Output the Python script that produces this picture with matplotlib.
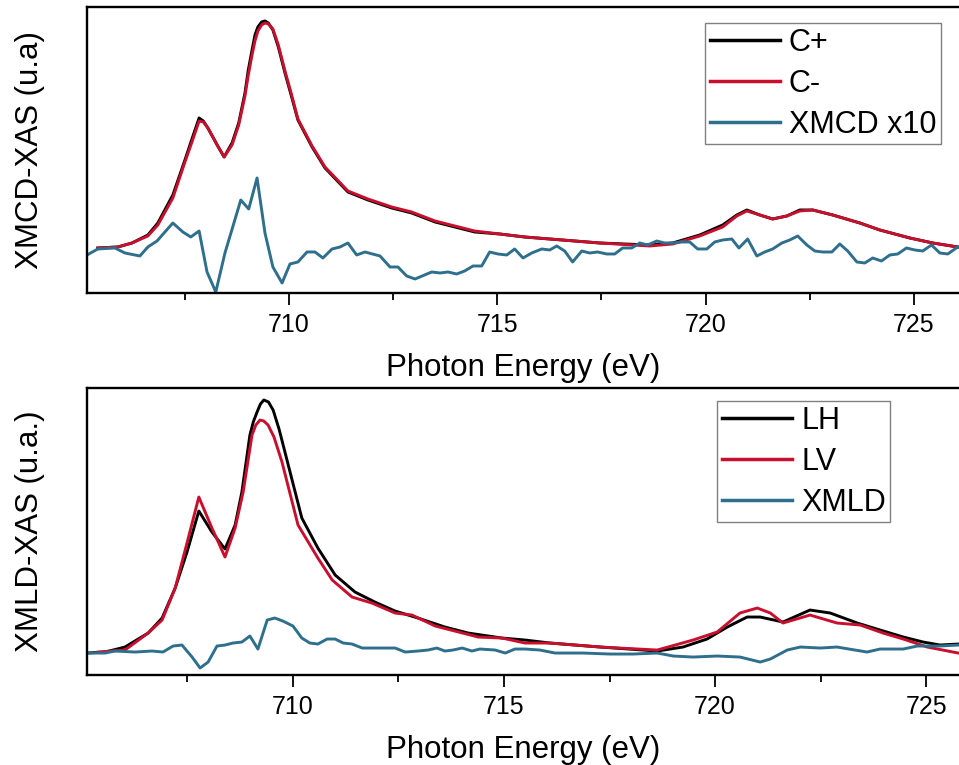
import numpy as np
import matplotlib
matplotlib.use('Agg')
import matplotlib.pyplot as plt

plt.rcParams['font.family'] = ['Liberation Sans', 'DejaVu Sans']

# ---- top panel: circular polarisation (XMCD) ----
e_cp = [705.42, 705.90, 706.24, 706.62, 706.86, 707.22, 707.51, 707.67, 707.85, 707.95,
        708.06, 708.31, 708.45, 708.64, 708.80, 708.95, 709.03, 709.12, 709.19, 709.26,
        709.35, 709.43, 709.51, 709.62, 709.75, 709.91, 710.07, 710.22, 710.56, 710.87,
        711.42, 711.90, 712.47, 712.95, 713.51, 714.46, 715.06, 715.66, 716.26, 717.46,
        718.66, 719.21, 719.86, 720.41, 720.75, 720.99, 721.30, 721.61, 721.95, 722.26,
        722.57, 723.05, 723.70, 724.18, 724.90, 725.45, 726.05]
c_plus = [0.45, 0.46, 0.50, 0.58, 0.70, 0.98, 1.33, 1.53, 1.75, 1.72,
          1.65, 1.46, 1.36, 1.50, 1.70, 2.00, 2.23, 2.43, 2.58, 2.66,
          2.71, 2.72, 2.70, 2.63, 2.46, 2.20, 1.96, 1.73, 1.46, 1.25,
          1.01, 0.93, 0.85, 0.80, 0.71, 0.61, 0.59, 0.56, 0.54, 0.50,
          0.48, 0.50, 0.58, 0.68, 0.78, 0.83, 0.78, 0.74, 0.77, 0.83,
          0.83, 0.78, 0.70, 0.63, 0.55, 0.50, 0.46]
c_minus = [0.45, 0.46, 0.50, 0.57, 0.68, 0.95, 1.31, 1.50, 1.72, 1.71,
           1.65, 1.46, 1.36, 1.48, 1.68, 1.97, 2.18, 2.38, 2.52, 2.62,
           2.68, 2.70, 2.69, 2.64, 2.48, 2.22, 1.98, 1.74, 1.47, 1.26,
           1.02, 0.94, 0.86, 0.81, 0.72, 0.62, 0.59, 0.56, 0.54, 0.50,
           0.47, 0.49, 0.57, 0.66, 0.77, 0.82, 0.78, 0.74, 0.77, 0.82,
           0.83, 0.78, 0.70, 0.63, 0.55, 0.50, 0.46]

e_xmcd = [705.16, 705.42, 705.83, 706.07, 706.43, 706.62, 706.84, 707.22, 707.46, 707.65,
          707.85, 708.04, 708.25, 708.47, 708.85, 709.04, 709.24, 709.43, 709.62, 709.84,
          710.03, 710.22, 710.44, 710.63, 710.82, 711.04, 711.23, 711.42, 711.63, 711.83,
          712.19, 712.43, 712.62, 712.83, 713.03, 713.43, 713.63, 713.82, 714.03, 714.22,
          714.42, 714.63, 714.82, 715.02, 715.23, 715.42, 715.62, 715.83, 716.07, 716.26,
          716.43, 716.62, 716.81, 717.03, 717.22, 717.41, 717.63, 717.82, 718.01, 718.23,
          718.42, 718.61, 718.83, 719.02, 719.21, 719.43, 719.62, 719.81, 720.03, 720.22,
          720.41, 720.63, 720.80, 721.01, 721.23, 721.42, 721.61, 721.83, 722.02, 722.21,
          722.43, 722.62, 722.81, 723.03, 723.22, 723.41, 723.63, 723.82, 724.01, 724.22,
          724.42, 724.61, 724.82, 725.02, 725.21, 725.42, 725.62, 725.81, 726.05]
xmcd_x10 = [0.38, 0.44, 0.45, 0.40, 0.37, 0.46, 0.52, 0.70, 0.61, 0.56,
            0.62, 0.21, 0.01, 0.40, 0.93, 0.84, 1.15, 0.60, 0.26, 0.10,
            0.29, 0.31, 0.41, 0.41, 0.35, 0.44, 0.46, 0.50, 0.38, 0.41,
            0.37, 0.26, 0.26, 0.17, 0.14, 0.21, 0.20, 0.21, 0.19, 0.22,
            0.27, 0.27, 0.41, 0.39, 0.38, 0.44, 0.35, 0.40, 0.44, 0.43,
            0.47, 0.42, 0.31, 0.42, 0.40, 0.41, 0.39, 0.39, 0.45, 0.45,
            0.50, 0.48, 0.52, 0.50, 0.50, 0.51, 0.51, 0.44, 0.44, 0.51,
            0.53, 0.54, 0.45, 0.54, 0.37, 0.41, 0.44, 0.50, 0.53, 0.57,
            0.48, 0.42, 0.41, 0.41, 0.49, 0.42, 0.31, 0.30, 0.35, 0.32,
            0.38, 0.39, 0.45, 0.43, 0.42, 0.48, 0.40, 0.39, 0.46]

# ---- bottom panel: linear polarisation (XMLD) ----
e_lh = [705.12, 705.55, 706.02, 706.57, 706.90, 707.21, 707.49, 707.77, 708.08, 708.39,
        708.63, 708.79, 708.98, 709.06, 709.15, 709.23, 709.31, 709.42, 709.53, 709.67,
        709.81, 710.21, 710.59, 711.00, 711.47, 711.94, 712.42, 712.96, 713.60, 714.15,
        714.95, 715.50, 716.09, 717.28, 718.63, 719.24, 719.81, 720.29, 720.76, 721.07,
        721.61, 722.25, 722.73, 723.37, 723.91, 724.46, 724.93, 725.33, 725.76]
lh = [0.22, 0.23, 0.28, 0.42, 0.57, 0.87, 1.23, 1.64, 1.43, 1.26,
      1.50, 1.83, 2.40, 2.53, 2.63, 2.71, 2.75, 2.73, 2.65, 2.46,
      2.23, 1.57, 1.27, 1.00, 0.83, 0.73, 0.64, 0.57, 0.48, 0.42,
      0.37, 0.35, 0.32, 0.28, 0.24, 0.28, 0.36, 0.48, 0.58, 0.58,
      0.53, 0.65, 0.62, 0.52, 0.45, 0.38, 0.33, 0.30, 0.31]

e_lv = [705.38, 706.02, 706.57, 706.90, 707.21, 707.49, 707.77, 708.08, 708.39, 708.63,
        708.82, 709.03, 709.12, 709.22, 709.31, 709.41, 709.55, 709.74, 710.12, 710.59,
        710.93, 711.40, 711.87, 712.42, 712.82, 713.37, 714.39, 714.95, 715.50, 716.09,
        717.28, 718.63, 719.48, 720.05, 720.59, 721.00, 721.31, 721.61, 722.25, 722.89,
        723.44, 723.98, 724.46, 725.03, 725.76]
lv = [0.23, 0.25, 0.42, 0.55, 0.87, 1.32, 1.78, 1.47, 1.18, 1.47,
      1.83, 2.40, 2.50, 2.55, 2.54, 2.50, 2.38, 2.13, 1.50, 1.17,
      0.95, 0.78, 0.72, 0.62, 0.60, 0.49, 0.38, 0.37, 0.32, 0.32,
      0.28, 0.25, 0.35, 0.43, 0.62, 0.67, 0.62, 0.52, 0.60, 0.52,
      0.50, 0.42, 0.36, 0.28, 0.22]

e_xmld = [705.12, 705.55, 705.78, 706.26, 706.66, 706.92, 707.16, 707.37, 707.61, 707.80,
          707.99, 708.20, 708.39, 708.58, 708.79, 708.98, 709.17, 709.39, 709.57, 709.76,
          710.00, 710.21, 710.40, 710.59, 710.81, 711.00, 711.19, 711.40, 711.64, 712.02,
          712.42, 712.66, 712.96, 713.20, 713.41, 713.60, 713.79, 714.01, 714.24, 714.43,
          714.79, 715.03, 715.26, 715.50, 715.85, 716.21, 716.87, 717.51, 718.06, 718.63,
          719.01, 719.48, 720.05, 720.59, 721.07, 721.31, 721.71, 722.02, 722.49, 722.89,
          723.60, 723.91, 724.46, 724.79, 725.33, 725.76]
xmld = [0.22, 0.22, 0.24, 0.23, 0.24, 0.23, 0.29, 0.30, 0.18, 0.07,
        0.13, 0.29, 0.30, 0.32, 0.33, 0.39, 0.26, 0.55, 0.57, 0.54,
        0.49, 0.37, 0.32, 0.31, 0.36, 0.36, 0.32, 0.31, 0.27, 0.27,
        0.27, 0.23, 0.24, 0.25, 0.27, 0.24, 0.25, 0.27, 0.24, 0.26,
        0.25, 0.22, 0.26, 0.26, 0.25, 0.22, 0.22, 0.21, 0.21, 0.22,
        0.19, 0.18, 0.19, 0.18, 0.13, 0.16, 0.25, 0.28, 0.27, 0.28,
        0.23, 0.26, 0.26, 0.29, 0.29, 0.30]

black = '#000000'
red = '#C8102E'
blue = '#2E6F8E'

fig = plt.figure(figsize=(9.59, 7.65), dpi=100)
ax1 = fig.add_axes([0.0907, 0.6170, 0.9093, 0.3739])
ax2 = fig.add_axes([0.0907, 0.1176, 0.9093, 0.3752])


def style_axis(ax, xlim, ylim, ylabel):
    ax.set_xlim(*xlim)
    ax.set_ylim(*ylim)
    ax.set_yticks([])
    ax.set_xticks([710, 715, 720, 725])
    ax.set_xticks([707.5, 712.5, 717.5, 722.5], minor=True)
    ax.tick_params(axis='x', which='major', direction='out', length=8.5, width=1.3,
                   labelsize=18, pad=6)
    ax.tick_params(axis='x', which='minor', direction='out', length=5, width=1.3)
    ax.spines['right'].set_visible(False)
    for s in ['left', 'top', 'bottom']:
        ax.spines[s].set_linewidth(1.7)
    ax.set_xlabel('Photon Energy (eV)', fontsize=22.5, labelpad=11.5)
    ax.set_ylabel(ylabel, fontsize=22.5)
    ax.yaxis.set_label_coords(-0.048, 0.5)


ax1.plot(e_cp, c_plus, color=black, lw=2.1, label='C+')
ax1.plot(e_cp, c_minus, color=red, lw=2.1, label='C-')
ax1.plot(e_xmcd, xmcd_x10, color=blue, lw=2.1, label='XMCD x10')
style_axis(ax1, (705.16, 726.08), (0, 2.86), 'XMCD-XAS (u.a)')

ax2.plot(e_lh, lh, color=black, lw=2.1, label='LH')
ax2.plot(e_lv, lv, color=red, lw=2.1, label='LV')
ax2.plot(e_xmld, xmld, color=blue, lw=2.1, label='XMLD')
style_axis(ax2, (705.12, 725.78), (0, 2.87), 'XMLD-XAS (u.a.)')

for ax, anchor in [(ax1, (0.7351, 0.9699)), (ax2, (0.7477, 0.4758))]:
    leg = ax.legend(loc='upper left', bbox_to_anchor=anchor, bbox_transform=fig.transFigure,
                    fontsize=22, frameon=True, fancybox=False, framealpha=1,
                    edgecolor='#808080', borderaxespad=0, borderpad=0.15,
                    handlelength=2.3, handletextpad=0.3, labelspacing=0.36)
    leg.get_frame().set_linewidth(1.0)
    for line in leg.get_lines():
        line.set_linewidth(2.5)

fig.savefig('out.png', dpi=100)
